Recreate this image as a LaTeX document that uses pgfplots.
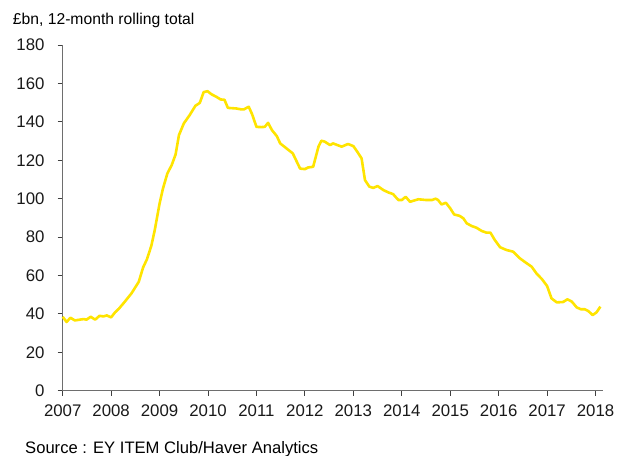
\documentclass[border=0pt]{standalone}
\usepackage{fontspec}
\setmainfont{Liberation Sans}
\usepackage{pgfplots}
\pgfplotsset{compat=1.18}
\definecolor{eyyellow}{RGB}{255,228,0}
\definecolor{axgray}{RGB}{110,110,110}
\begin{document}
\begin{tikzpicture}
\path[use as bounding box] (-62.7bp,-65.3bp) rectangle (568.3bp,390.7bp);
\begin{axis}[
  at={(0,0)}, anchor=south west,
  scale only axis, width=540.6bp, height=345.6bp,
  xmin=2007, xmax=2018.16, ymin=0, ymax=180,
  axis x line=bottom, axis y line=left,
  axis line style={axgray, line width=1bp, -},
  xtick={2007,2008,...,2018}, ytick={0,20,...,180},
  tick align=outside, major tick length=5bp,
  tick style={black!75, line width=0.9bp},
  /pgf/number format/assume math mode=true,
  /pgf/number format/1000 sep={},
  tick label style={font=\fontsize{16.8bp}{18bp}\selectfont, text=black!90, inner sep=0pt},
  yticklabel style={anchor=east, xshift=-13bp},
  xticklabel style={anchor=north, yshift=-9bp},
  clip=false,
]
\addplot[color=eyyellow, line width=2.6bp, line join=round] coordinates {
(2007.00,38.5) (2007.08,35.8) (2007.16,38.0) (2007.25,36.6) (2007.43,37.3) (2007.49,37.0)
(2007.58,38.5) (2007.67,37.0) (2007.76,39.0) (2007.84,38.7) (2007.91,39.2) (2008.00,38.2)
(2008.08,40.8) (2008.16,42.7) (2008.28,46.3) (2008.42,50.7) (2008.57,56.7) (2008.66,64.2)
(2008.74,68.5) (2008.83,75.5) (2008.90,83.6) (2009.00,97.5) (2009.07,105.3) (2009.16,113.1)
(2009.25,117.5) (2009.33,123.0) (2009.40,133.1) (2009.50,139.2) (2009.62,143.5) (2009.74,148.4)
(2009.83,149.9) (2009.91,155.5) (2009.99,156.0) (2010.07,154.4) (2010.17,153.1) (2010.26,151.7)
(2010.34,151.5) (2010.41,147.3) (2010.58,147.0) (2010.69,146.5) (2010.74,146.5) (2010.84,147.9)
(2010.91,144.0) (2011.00,137.4) (2011.10,137.3) (2011.17,137.4) (2011.24,139.5) (2011.32,135.7)
(2011.42,132.6) (2011.49,128.8) (2011.62,126.2) (2011.75,123.6) (2011.90,115.7) (2012.00,115.4)
(2012.07,116.3) (2012.17,116.6) (2012.28,127.1) (2012.34,130.2) (2012.41,129.7) (2012.52,127.9)
(2012.58,128.8) (2012.76,127.1) (2012.89,128.5) (2013.00,127.4) (2013.08,124.5) (2013.17,121.0)
(2013.24,109.7) (2013.33,106.3) (2013.41,105.6) (2013.50,106.6) (2013.62,104.5) (2013.72,103.3)
(2013.82,102.4) (2013.93,99.3) (2014.00,99.3) (2014.08,101.0) (2014.17,98.4) (2014.34,99.7)
(2014.51,99.3) (2014.62,99.3) (2014.70,100.0) (2014.75,99.3) (2014.82,97.0) (2014.91,97.9)
(2015.00,95.0) (2015.08,91.8) (2015.19,91.1) (2015.27,89.8) (2015.34,87.2) (2015.44,85.8)
(2015.54,84.9) (2015.65,83.2) (2015.75,82.3) (2015.83,82.3) (2015.92,78.5) (2016.03,74.7)
(2016.16,73.3) (2016.30,72.4) (2016.44,68.9) (2016.56,66.7) (2016.68,64.6) (2016.78,61.1)
(2016.89,58.2) (2017.00,54.5) (2017.09,48.1) (2017.20,46.0) (2017.33,46.2) (2017.42,47.6)
(2017.51,46.4) (2017.61,43.4) (2017.70,42.4) (2017.78,42.4) (2017.85,41.5) (2017.94,39.4)
(2018.02,40.8) (2018.10,43.8)
};
\end{axis}
\node[anchor=base west, inner sep=0pt, font=\fontsize{15.7bp}{18bp}\selectfont] at (-50bp,365.7bp) {£bn, 12-month rolling total};
\node[anchor=base west, inner sep=0pt, font=\fontsize{16.6bp}{18bp}\selectfont] at (-37.7bp,-62.3bp) {Source : EY ITEM Club/Haver Analytics};
\end{tikzpicture}
\end{document}
